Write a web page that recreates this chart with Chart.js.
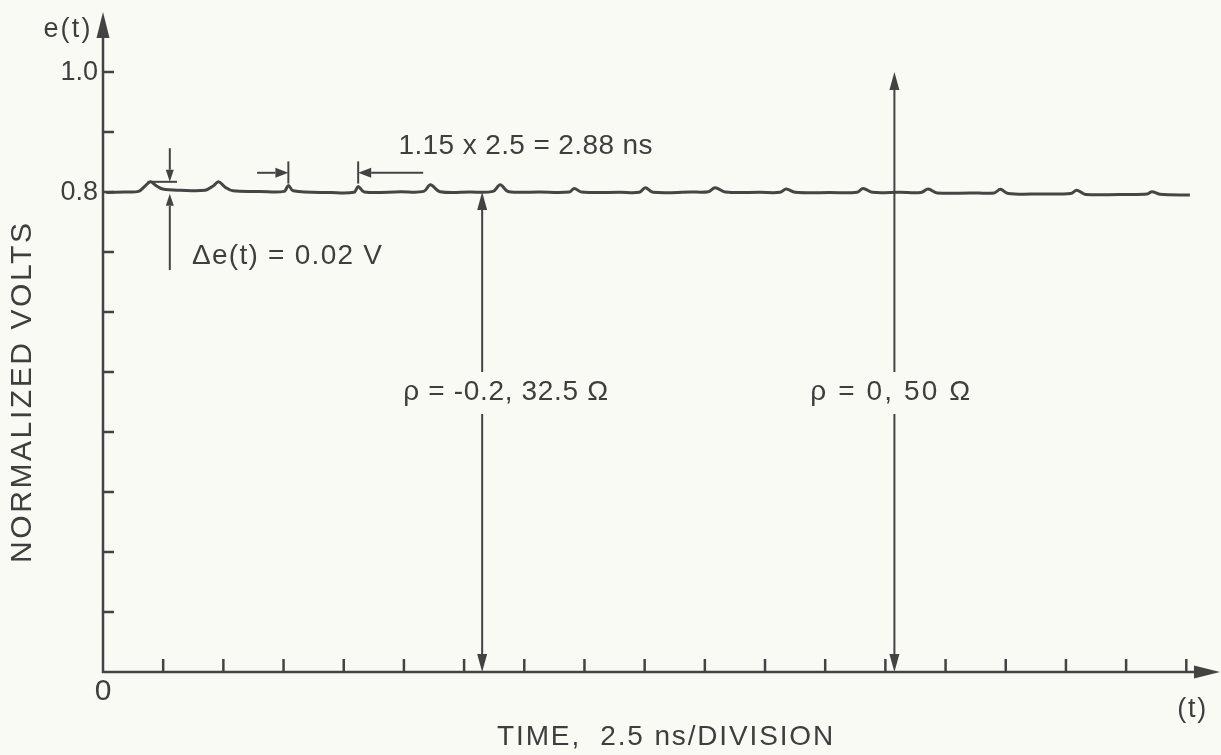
<!DOCTYPE html>
<html>
<head>
<meta charset="utf-8">
<script src="https://cdn.jsdelivr.net/npm/chart.js@4.4.1/dist/chart.umd.min.js"></script>
<style>
  html, body { margin: 0; padding: 0; background: #fafaf4; }
  canvas { display: block; }
</style>
</head>
<body>
<canvas id="c" width="1221" height="755"></canvas>
<script>
// Reflected step on a matched line: time in divisions (2.5 ns each), voltage normalized.
const traceT = [0.055, 0.37, 0.59, 0.70, 0.79, 0.89, 0.99, 1.28, 1.70, 1.83, 1.92, 2.03, 2.16, 2.61,
  3.01, 3.08, 3.16, 3.78, 4.17, 4.24, 4.34, 4.94, 5.33, 5.44, 5.60, 6.10, 6.48, 6.60, 6.73, 7.26,
  7.75, 7.83, 7.95, 8.60, 8.91, 9.01, 9.14, 9.76, 10.06, 10.17, 10.34, 10.92, 11.25, 11.35, 11.50,
  12.08, 12.53, 12.63, 12.78, 13.24, 13.59, 13.71, 13.86, 14.41, 14.81, 14.91, 15.04, 15.57, 16.08,
  16.18, 16.33, 16.89, 17.35, 17.43, 17.56, 18.06];
const traceV = [0.799, 0.800, 0.801, 0.810, 0.817, 0.810, 0.805, 0.803, 0.803, 0.810, 0.817, 0.808, 0.802, 0.801,
  0.801, 0.811, 0.802, 0.799, 0.7995, 0.809, 0.800, 0.8005, 0.801, 0.812, 0.8005, 0.800, 0.801, 0.812, 0.801, 0.800,
  0.800, 0.806, 0.800, 0.7995, 0.7995, 0.807, 0.7995, 0.800, 0.8005, 0.807, 0.800, 0.7995, 0.7995, 0.805, 0.7995,
  0.799, 0.7995, 0.806, 0.7995, 0.7995, 0.799, 0.805, 0.7985, 0.7985, 0.7985, 0.8045, 0.7975, 0.7967, 0.7975,
  0.803, 0.796, 0.796, 0.7967, 0.8005, 0.7963, 0.795];

// Axis divisions and labelled values
const xTickDivisions = [1, 2, 3, 4, 5, 6, 7, 8, 9, 10, 11, 12, 13, 14, 15, 16, 17, 18];
const yTickValues = [0.1, 0.2, 0.3, 0.4, 0.5, 0.6, 0.7, 0.8, 0.9, 1.0];
const yLabelValues = [0.8, 1.0];
const yLabelTexts = ['0.8', '1.0'];
const xAxisEnd = 18.56;
const yAxisEnd = 1.1;

// Reflection markers: position in divisions, level reached, caption
const reflectionT = [6.30, 13.15];
const reflectionTop = [0.80, 1.00];
const reflectionLabels = ['ρ = -0.2, 32.5 Ω', 'ρ = 0, 50 Ω'];

// Ripple amplitude marker
const rippleT = 1.11;
const rippleHigh = 0.817;
const rippleLow = 0.797;
const rippleLabel = 'Δe(t) = 0.02 V';

// Ripple period marker (1.15 divisions)
const periodStartT = 3.08;
const periodEndT = 4.24;
const periodLabel = '1.15 x 2.5 = 2.88 ns';

const INK = '#434343';
const FONT = '"Liberation Sans", "DejaVu Sans", sans-serif';

function arrow(ctx, x1, y1, x2, y2, len, half) {
  const a = Math.atan2(y2 - y1, x2 - x1);
  const bx = x2 - len * Math.cos(a), by = y2 - len * Math.sin(a);
  ctx.beginPath();
  ctx.moveTo(x1, y1);
  ctx.lineTo(bx, by);
  ctx.stroke();
  ctx.beginPath();
  ctx.moveTo(x2, y2);
  ctx.lineTo(bx + half * Math.sin(a), by - half * Math.cos(a));
  ctx.lineTo(bx - half * Math.sin(a), by + half * Math.cos(a));
  ctx.closePath();
  ctx.fill();
}

function line(ctx, x1, y1, x2, y2) {
  ctx.beginPath();
  ctx.moveTo(x1, y1);
  ctx.lineTo(x2, y2);
  ctx.stroke();
}

// Text spread to a given width, the way the lettering guide spaced it
function text(ctx, str, x, y, size, width, align) {
  ctx.save();
  ctx.font = size + 'px ' + FONT;
  ctx.textBaseline = 'middle';
  ctx.textAlign = 'left';
  if ('letterSpacing' in ctx) ctx.letterSpacing = '0px';
  const natural = ctx.measureText(str).width;
  let w = natural;
  if (width && 'letterSpacing' in ctx && str.length > 1) {
    ctx.letterSpacing = ((width - natural) / (str.length - 1)).toFixed(2) + 'px';
    w = width;
  }
  const x0 = align === 'center' ? x - w / 2 : align === 'right' ? x - w : x;
  ctx.fillText(str, x0, y);
  ctx.restore();
}

const drawing = {
  id: 'drawing',
  beforeDraw(chart) {
    const ctx = chart.ctx;
    ctx.save();
    ctx.fillStyle = '#fafaf4';
    ctx.fillRect(0, 0, chart.width, chart.height);
    ctx.restore();
  },
  afterDatasetsDraw(chart) {
    const ctx = chart.ctx;
    const xs = chart.scales.x, ys = chart.scales.y;
    const X = v => xs.getPixelForValue(v);
    const Y = v => ys.getPixelForValue(v);
    const x0 = X(0), y0 = Y(0);

    ctx.save();
    ctx.strokeStyle = INK;
    ctx.fillStyle = INK;
    ctx.lineCap = 'butt';

    // axes with arrowheads
    ctx.lineWidth = 2.5;
    arrow(ctx, x0, y0 + 1, x0, Y(yAxisEnd), 26, 6.5);
    arrow(ctx, x0 - 1, y0, X(xAxisEnd), y0, 26, 6.5);

    // tick marks inside the axes
    ctx.lineWidth = 2.5;
    yTickValues.forEach(v => line(ctx, x0, Y(v), x0 + 11, Y(v)));
    xTickDivisions.forEach(t => line(ctx, X(t), y0, X(t), y0 - 13));

    // reflection markers, broken for their captions
    ctx.lineWidth = 2;
    reflectionT.forEach((t, i) => {
      const x = X(t);
      arrow(ctx, x, Y(0.50), x, Y(reflectionTop[i]), 18, 5);
      arrow(ctx, x, Y(0.43), x, y0, 18, 5);
    });

    // ripple amplitude marker
    const rx = X(rippleT);
    arrow(ctx, rx, Y(0.873), rx, Y(rippleHigh), 12, 4);
    line(ctx, X(0.74), Y(rippleHigh), X(1.23), Y(rippleHigh));
    arrow(ctx, rx, Y(0.670), rx, Y(rippleLow), 12, 4);

    // ripple period marker
    const py = Y(0.832);
    line(ctx, X(periodStartT), Y(0.814), X(periodStartT), Y(0.851));
    line(ctx, X(periodEndT), Y(0.814), X(periodEndT), Y(0.851));
    arrow(ctx, X(2.56), py, X(periodStartT), py, 13, 5);
    arrow(ctx, X(5.32), py, X(periodEndT), py, 13, 5);

    // texts
    ctx.fillStyle = '#3e3e3e';
    text(ctx, 'e(t)', X(-0.99), Y(1.07), 27, 47, 'left');
    yLabelValues.forEach((v, i) => text(ctx, yLabelTexts[i], x0 - 5, Y(v) + 1, 27, null, 'right'));
    text(ctx, '0', x0, y0 + 20, 30, null, 'center');
    text(ctx, '(t)', X(18.09), y0 + 38, 27, 29, 'center');
    text(ctx, rippleLabel, X(1.48), Y(0.693), 28, 190, 'left');
    text(ctx, periodLabel, X(7.02), Y(0.877), 28, 254, 'center');
    text(ctx, reflectionLabels[0], X(6.69), Y(0.4665), 28, 205, 'center');
    text(ctx, reflectionLabels[1], X(13.08), Y(0.4665), 28, 160, 'center');
    text(ctx, 'TIME,  2.5 ns/DIVISION', X(9.34), y0 + 65, 28, 336, 'center');

    ctx.save();
    ctx.translate(23, Y(0.465));
    ctx.rotate(-Math.PI / 2);
    text(ctx, 'NORMALIZED VOLTS', 0, 0, 30, 340, 'center');
    ctx.restore();

    ctx.restore();
  }
};

new Chart(document.getElementById('c'), {
  type: 'line',
  data: {
    datasets: [{
      data: traceT.map((t, i) => ({ x: t, y: traceV[i] })),
      borderColor: '#454545',
      borderWidth: 3,
      pointRadius: 0,
      tension: 0.35,
      fill: false
    }]
  },
  options: {
    responsive: false,
    devicePixelRatio: 1,
    animation: false,
    layout: { padding: { left: 103, right: 1, top: 12, bottom: 83 } },
    scales: {
      x: { type: 'linear', min: 0, max: xAxisEnd, display: false },
      y: { type: 'linear', min: 0, max: yAxisEnd, display: false }
    },
    plugins: { legend: { display: false }, tooltip: { enabled: false } }
  },
  plugins: [drawing]
});
</script>
</body>
</html>
